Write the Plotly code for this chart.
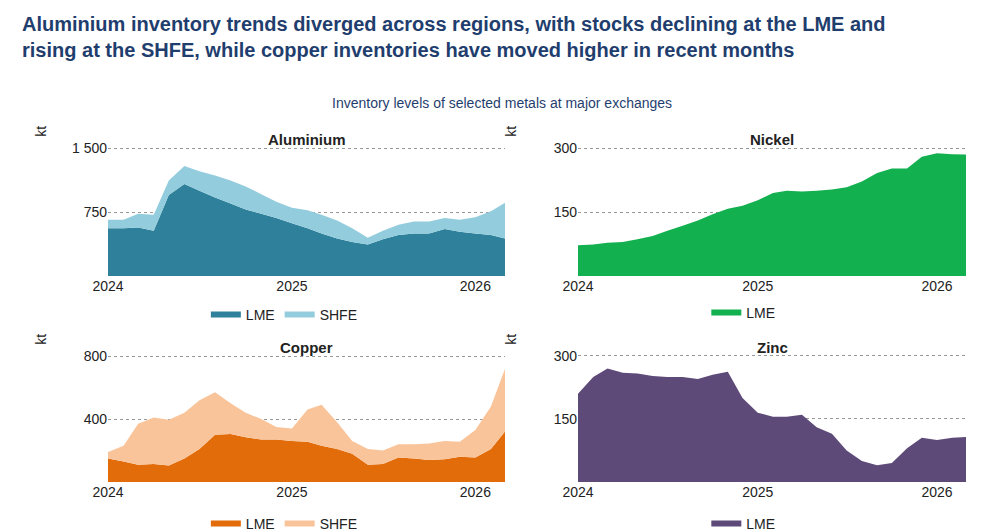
import pandas as pd
import plotly.graph_objects as go

months = pd.date_range("2024-01-01", "2026-03-01", freq="MS")

alu_lme = [560, 560, 570, 530, 950, 1080, 1000, 920, 850, 780, 730, 680, 620, 560,
           500, 440, 400, 370, 430, 480, 500, 500, 550, 520, 500, 480, 440]
alu_total = [660, 660, 730, 720, 1120, 1290, 1230, 1180, 1120, 1050, 960, 870, 800, 770,
             720, 650, 560, 450, 530, 600, 640, 640, 680, 660, 690, 760, 860]
alu_shfe = [t - l for t, l in zip(alu_total, alu_lme)]

nickel_lme = [72, 74, 78, 80, 86, 94, 106, 118, 130, 145, 158, 165, 178, 195, 200, 198,
              200, 203, 208, 222, 242, 252, 252, 280, 288, 286, 285]

cu_lme = [150, 130, 110, 115, 105, 150, 210, 300, 305, 285, 270, 270, 260, 255, 230, 210,
          180, 110, 115, 155, 150, 140, 145, 160, 155, 210, 320]
cu_total = [190, 230, 370, 410, 395, 440, 520, 570, 500, 440, 400, 350, 340, 460, 490, 380,
            260, 210, 200, 240, 240, 245, 260, 255, 330, 480, 720]
cu_shfe = [t - l for t, l in zip(cu_total, cu_lme)]

zinc_lme = [210, 250, 270, 260, 258, 252, 250, 250, 245, 255, 262, 200, 165, 155, 155, 160,
            130, 115, 75, 50, 40, 45, 80, 105, 100, 105, 107]

W, H = 987, 529
def xd(a, b): return [a / W, b / W]
def yd(top, bot): return [1 - bot / H, 1 - top / H]

panels = [
    # name, xdom, ydom, yrange, ticks, ticktext
    ("Aluminium", xd(100, 497), yd(118, 268), [0, 1760], [750, 1500], ["750", "1 500"]),
    ("Nickel", xd(570, 958), yd(118, 268), [0, 352], [150, 300], ["150", "300"]),
    ("Copper", xd(100, 497), yd(326, 474), [0, 940], [400, 800], ["400", "800"]),
    ("Zinc", xd(570, 958), yd(326, 474), [0, 352], [150, 300], ["150", "300"]),
]

fig = go.Figure()
series = [
    (1, "LME", alu_lme, "#2f819b", "a", "legend"),
    (1, "SHFE", alu_shfe, "#93cddd", "a", "legend"),
    (2, "LME", nickel_lme, "#12b04f", "n", "legend2"),
    (3, "LME", cu_lme, "#e36c0a", "c", "legend3"),
    (3, "SHFE", cu_shfe, "#f9c49a", "c", "legend3"),
    (4, "LME", zinc_lme, "#5e4a78", "z", "legend4"),
]
for i, name, vals, col, grp, leg in series:
    s = "" if i == 1 else str(i)
    fig.add_trace(go.Scatter(x=months, y=vals, name=name, stackgroup=grp, mode="none",
                             fillcolor=col, line=dict(width=0), xaxis="x" + s, yaxis="y" + s,
                             legend=leg, showlegend=True))

layout = dict(width=W, height=H, margin=dict(l=0, r=0, t=0, b=0, autoexpand=False),
              paper_bgcolor="white", plot_bgcolor="white",
              font=dict(family="Arial, Liberation Sans", size=14, color="#222222"),
              showlegend=True)
legpos = [(0.28, 1 - 307 / H), (0.745, 1 - 305 / H), (0.28, 1 - 516 / H), (0.745, 1 - 516 / H)]
annotations = []
for k, (title, xdom, ydom, yr, tv, tt) in enumerate(panels):
    s = "" if k == 0 else str(k + 1)
    layout["xaxis" + s] = dict(domain=xdom, anchor="y" + s, type="date",
                               range=["2024-01-01", "2026-03-01"],
                               tickvals=["2024-01-01", "2025-01-01", "2026-01-01"],
                               ticktext=["2024", "2025", "2026"], showgrid=False,
                               ticks="", tickfont=dict(size=14), showline=False,
                               automargin=False)
    layout["yaxis" + s] = dict(domain=ydom, anchor="x" + s, range=yr, tickvals=tv,
                               ticktext=tt, showgrid=True, gridcolor="#999999",
                               griddash="dot", gridwidth=1, zeroline=False,
                               tickfont=dict(size=14), automargin=False)
    layout["legend" + ("" if k == 0 else str(k + 1))] = dict(
        orientation="h", x=legpos[k][0], y=legpos[k][1], xanchor="center", yanchor="middle",
        font=dict(size=14), bgcolor="rgba(0,0,0,0)", traceorder="normal")
    annotations.append(dict(text="<b>" + title + "</b>", xref="paper", yref="paper",
                            x=(xdom[0] + xdom[1]) / 2, y=ydom[1] - 0.005, xanchor="center",
                            yanchor="top", showarrow=False, font=dict(size=15)))
    annotations.append(dict(text="kt", xref="paper", yref="paper", textangle=-90,
                            x=(xdom[0]) - 0.068, y=ydom[1] + 0.005, xanchor="center",
                            yanchor="top", showarrow=False, font=dict(size=14)))
annotations.append(dict(
    text="<b>Aluminium inventory trends diverged across regions, with stocks declining at the LME and<br>"
         "rising at the SHFE, while copper inventories have moved higher in recent months</b>",
    xref="paper", yref="paper", x=0.012, y=0.995, xanchor="left", yanchor="top", align="left",
    showarrow=False, font=dict(size=20, color="#1f3e6e")))
annotations.append(dict(text="Inventory levels of selected metals at major exchanges",
                        xref="paper", yref="paper", x=0.5, y=1 - 95 / H, xanchor="center",
                        yanchor="middle", showarrow=False, font=dict(size=14, color="#1f3e6e")))
layout["annotations"] = annotations
fig.update_layout(**layout)
fig.write_html("out.html")
